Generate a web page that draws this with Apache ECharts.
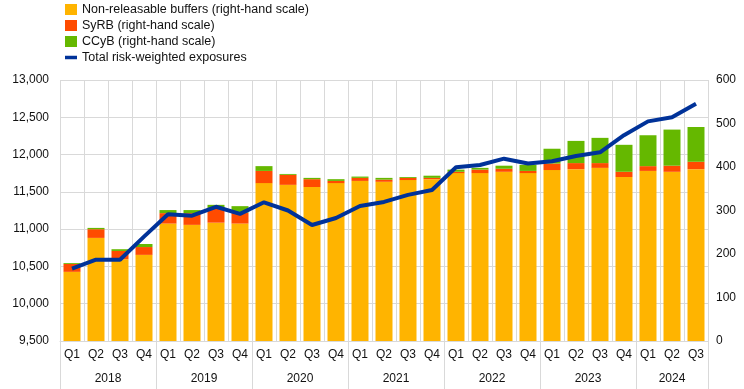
<!DOCTYPE html>
<html>
<head>
<meta charset="utf-8">
<script src="https://cdn.jsdelivr.net/npm/echarts@6/dist/echarts.min.js"></script>
<style>html,body{margin:0;padding:0;background:#fff}#c{width:744px;height:389px}</style>
</head>
<body>
<div id="c"></div>
<script>
var quarters = ['Q1','Q2','Q3','Q4','Q1','Q2','Q3','Q4','Q1','Q2','Q3','Q4','Q1','Q2','Q3','Q4','Q1','Q2','Q3','Q4','Q1','Q2','Q3','Q4','Q1','Q2','Q3'];
var years = ['2018','2019','2020','2021','2022','2023','2024'];
var nonReleasable = [159,237,188,198, 270,267,272,270, 363,359,354,363, 368,366,370,372, 386,386,389,386, 393,395,398,377, 391,389,395];
var syrb = [18,20,19,18, 24,27,34,25, 28,23,18,5, 7,5,5,3, 3,8,7,5, 15,14,11,12, 11,14,17];
var ccyb = [2,3,4,7, 7,7,7,15, 11,2,3,4, 3,4,2,5, 5,4,7,14, 34,51,58,62, 71,83,80];
var rwe = [10470,10590,10590,10900, 11200,11180,11300,11205, 11360,11250,11055,11150, 11310,11365,11460,11525, 11830,11860,11945,11880, 11910,11980,12030,12260, 12445,12500,12680];
var seriesNames = ['Non-releasable buffers (right-hand scale)','SyRB (right-hand scale)','CCyB (right-hand scale)','Total risk-weighted exposures'];

var yearIdx = {1:'a',5:'a',9:'a',13:'a',17:'a',21:'a',25:'b'};
var yearByIdx = {}; var k = 0;
Object.keys(yearIdx).forEach(function(i){ yearByIdx[i] = years[k++]; });

var font = 'Liberation Sans, Arial, sans-serif';
var txt = '#111';
var grid = '#d9d9d9';
var chart = echarts.init(document.getElementById('c'));
chart.setOption({
  animation: false,
  textStyle: {fontFamily: font},
  legend: {
    orient: 'vertical', left: 60, top: -2, itemWidth: 12, itemHeight: 11, itemGap: 3,
    symbolKeepAspect: true,
    textStyle: {fontFamily: font, fontSize: 12.5, color: txt},
    data: [
      {name: seriesNames[0], icon: 'rect'},
      {name: seriesNames[1], icon: 'rect'},
      {name: seriesNames[2], icon: 'rect'},
      {name: seriesNames[3], icon: 'path://M0,0 L12,0 L12,3.5 L0,3.5 Z'}
    ]
  },
  grid: {left: 60, right: 36, top: 80, bottom: 48},
  xAxis: [
    {
      type: 'category', data: quarters, position: 'bottom',
      axisLine: {show: true, lineStyle: {color: grid}},
      axisTick: {show: true, length: 48, lineStyle: {color: grid},
        interval: function(i){ return i % 4 === 0; }},
      axisLabel: {color: txt, fontSize: 12, fontFamily: font, margin: 8, interval: 0},
      splitLine: {show: true, interval: 0, lineStyle: {color: grid}}
    },
    {
      type: 'category', data: quarters, position: 'bottom', offset: 24,
      axisLine: {show: false}, axisTick: {show: false}, splitLine: {show: false},
      axisLabel: {
        color: txt, fontSize: 12, fontFamily: font, margin: 8,
        interval: function(i){ return yearIdx[i] !== undefined; },
        formatter: function(v, i){ return yearIdx[i] === 'a' ? '{a|' + yearByIdx[i] + '}' : '{b|' + yearByIdx[i] + '}'; },
        rich: {a: {padding: [0,0,0,24], fontSize: 12, color: txt, fontFamily: font}, b: {fontSize: 12, color: txt, fontFamily: font}}
      }
    }
  ],
  yAxis: [
    {
      type: 'value', min: 9500, max: 13000, interval: 500, position: 'left',
      axisLine: {show: false}, axisTick: {show: false},
      axisLabel: {color: txt, fontSize: 12, fontFamily: font, margin: 11,
        formatter: function(v){ return v.toLocaleString('en-US'); }},
      splitLine: {show: true, lineStyle: {color: grid}}
    },
    {
      type: 'value', min: 0, max: 600, interval: 100, position: 'right',
      axisLine: {show: false}, axisTick: {show: false},
      axisLabel: {color: txt, fontSize: 12, fontFamily: font, margin: 8},
      splitLine: {show: false}
    }
  ],
  series: [
    {name: seriesNames[0], type: 'bar', stack: 'b', yAxisIndex: 1, data: nonReleasable, barWidth: 17, itemStyle: {color: '#FFB400'}},
    {name: seriesNames[1], type: 'bar', stack: 'b', yAxisIndex: 1, data: syrb, barWidth: 17, itemStyle: {color: '#FF4B00'}},
    {name: seriesNames[2], type: 'bar', stack: 'b', yAxisIndex: 1, data: ccyb, barWidth: 17, itemStyle: {color: '#65B800'}},
    {name: seriesNames[3], type: 'line', yAxisIndex: 0, data: rwe, symbol: 'none', showSymbol: false,
      lineStyle: {color: '#003299', width: 4}, itemStyle: {color: '#003299'}, z: 5}
  ]
});
</script>
</body>
</html>
